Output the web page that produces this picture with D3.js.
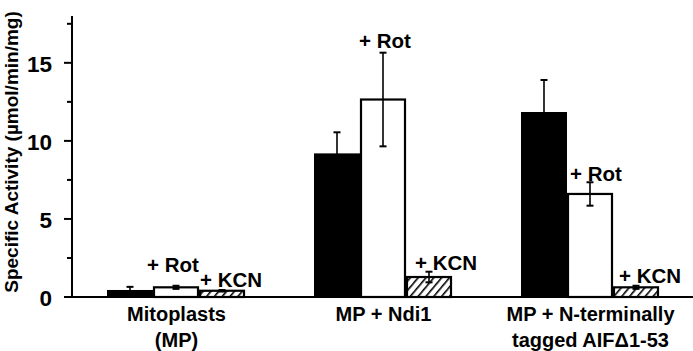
<!DOCTYPE html>
<html>
<head>
<meta charset="utf-8">
<script src="https://cdn.jsdelivr.net/npm/d3@7"></script>
<style>
  html, body { margin: 0; padding: 0; background: #fff; }
  svg text { font-family: "Liberation Sans", Arial, sans-serif; font-weight: bold; fill: #000; }
</style>
</head>
<body>
<svg id="chart" width="693" height="351"></svg>
<script>
// groups along the x axis (two lines each)
var groups = [
  ["Mitoplasts", "(MP)"],
  ["MP + Ndi1"],
  ["MP + N-terminally", "tagged AIF\u03941-53"]
];
var series = ["control", "rot", "kcn"];

// specific activity per group
var controlValues = [0.45, 9.2, 11.85];
var controlErrors = [0.2, 1.35, 2.05];
var rotValues = [0.62, 12.65, 6.6];
var rotErrors = [0.1, 3.0, 0.75];
var kcnValues = [0.4, 1.28, 0.62];
var kcnErrors = [0.05, 0.34, 0.1];

var yTicks = [0, 2.5, 5, 7.5, 10, 12.5, 15, 17.5];
var yLabels = [0, 5, 10, 15];

// text labels over the treated bars: [group, series, text, y in data units, dx]
var notes = [
  [0, "rot", "+ Rot", 1.6, -6],
  [1, "rot", "+ Rot", 15.96, -1],
  [2, "rot", "+ Rot", 7.44, 3],
  [0, "kcn", "+ KCN", 0.64, 1],
  [1, "kcn", "+ KCN", 1.73, 9],
  [2, "kcn", "+ KCN", 0.9, 6]
];

var valuesBy = { control: controlValues, rot: rotValues, kcn: kcnValues };
var errorsBy = { control: controlErrors, rot: rotErrors, kcn: kcnErrors };

var svg = d3.select("#chart");
var width = +svg.attr("width");
var left = 72;

var defs = svg.append("defs");
var pat = defs.append("pattern")
    .attr("id", "hatch")
    .attr("patternUnits", "userSpaceOnUse")
    .attr("width", 6).attr("height", 6)
    .attr("patternTransform", "rotate(40)");
pat.append("rect").attr("width", 6).attr("height", 6).attr("fill", "#fff");
pat.append("line")
    .attr("x1", 0).attr("y1", 0).attr("x2", 0).attr("y2", 6)
    .attr("stroke", "#000").attr("stroke-width", 3.2);

var y = d3.scaleLinear().domain([0, 18]).range([297, 16]);
var x0 = d3.scaleBand().domain(d3.range(groups.length)).range([left, width]).padding(0);
var x1 = d3.scaleBand().domain(series).range([35, 173]).padding(0);

var fills = { control: "#000", rot: "#fff", kcn: "url(#hatch)" };

// bars
var bars = [];
groups.forEach(function (g, i) {
  series.forEach(function (s) {
    bars.push({ g: i, s: s, v: valuesBy[s][i], e: errorsBy[s][i] });
  });
});

var barG = svg.append("g");
barG.selectAll("rect")
  .data(bars)
  .enter().append("rect")
    .attr("x", function (d) { return x0(d.g) + x1(d.s) + (d.s === "control" ? 0 : 1); })
    .attr("y", function (d) { return y(d.v); })
    .attr("width", function (d) { return x1.bandwidth() - (d.s === "control" ? 0 : 2); })
    .attr("height", function (d) { return y(0) - y(d.v); })
    .attr("fill", function (d) { return fills[d.s]; })
    .attr("stroke", "#000")
    .attr("stroke-width", function (d) { return d.s === "control" ? 0 : 2.2; });

// error bars
var errG = svg.append("g").attr("stroke", "#000").attr("stroke-width", 1.6);
bars.forEach(function (d) {
  var cx = x0(d.g) + x1(d.s) + x1.bandwidth() / 2;
  errG.append("line").attr("x1", cx).attr("x2", cx)
    .attr("y1", y(d.v - d.e)).attr("y2", y(d.v + d.e));
  [d.v - d.e, d.v + d.e].forEach(function (t) {
    errG.append("line").attr("x1", cx - 3.5).attr("x2", cx + 3.5)
      .attr("y1", y(t)).attr("y2", y(t)).attr("stroke-width", 2);
  });
});

// y axis
var axisG = svg.append("g").attr("stroke", "#000");
axisG.append("line").attr("x1", left).attr("x2", left)
  .attr("y1", y(18)).attr("y2", y(0)).attr("stroke-width", 2);
axisG.selectAll(".tick")
  .data(yTicks)
  .enter().append("line")
    .attr("class", "tick")
    .attr("x1", function (d) { return yLabels.indexOf(d) >= 0 ? left - 8 : left - 5; })
    .attr("x2", left)
    .attr("y1", function (d) { return y(d); })
    .attr("y2", function (d) { return y(d); })
    .attr("stroke-width", 2);
axisG.append("line").attr("x1", left).attr("x2", width)
  .attr("y1", y(0)).attr("y2", y(0)).attr("stroke-width", 2);

svg.append("g").selectAll("text")
  .data(yLabels)
  .enter().append("text")
    .attr("x", 52)
    .attr("y", function (d) { return y(d); })
    .attr("dy", "0.42em")
    .attr("text-anchor", "end")
    .style("font-size", "22.5px")
    .text(function (d) { return d; });

svg.append("text")
  .attr("transform", "translate(18,152) rotate(-90)")
  .attr("text-anchor", "middle")
  .style("font-size", "19px")
  .text("Specific Activity (\u00b5mol/min/mg)");

// group labels
var catG = svg.append("g");
groups.forEach(function (lines, i) {
  var t = catG.append("text")
    .attr("x", x0(i) + x0.bandwidth() / 2 + 1)
    .attr("y", 321)
    .attr("text-anchor", "middle")
    .style("font-size", "20px");
  lines.forEach(function (ln, k) {
    t.append("tspan")
      .attr("x", x0(i) + x0.bandwidth() / 2 + 1)
      .attr("dy", k === 0 ? 0 : 25.5)
      .text(ln);
  });
});

// annotations
svg.append("g").selectAll("text")
  .data(notes)
  .enter().append("text")
    .attr("x", function (d) { return x0(d[0]) + x1(d[1]) + d[4]; })
    .attr("y", function (d) { return y(d[3]); })
    .style("font-size", "20.5px")
    .text(function (d) { return d[2]; });
</script>
</body>
</html>
